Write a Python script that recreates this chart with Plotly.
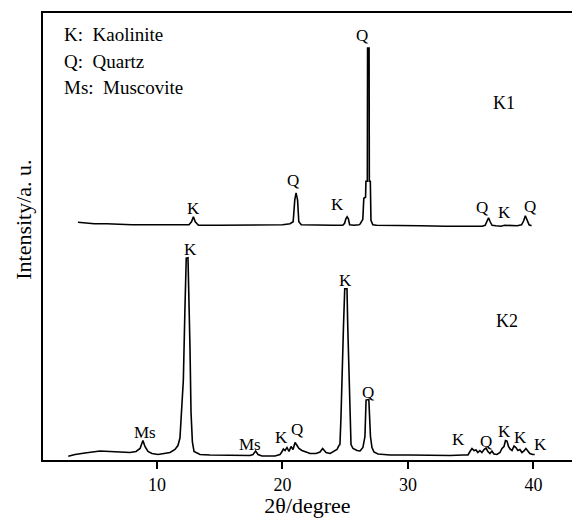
import plotly.graph_objects as go

# ---------------- data ----------------
# K1 pattern: 2theta (degree) and intensity (a.u., relative to its own zero)
k1_theta = [3.7, 4.0, 5.0, 6.0, 7.0, 8.0, 10.0, 12.0, 12.55, 12.75, 12.9, 13.05, 13.3,
            15.0, 17.0, 19.0, 20.0, 20.6, 20.85, 20.98, 21.08, 21.2, 21.3, 21.5, 22.5,
            24.0, 24.8, 24.95, 25.05, 25.15, 25.25, 25.35, 25.7, 26.1, 26.2, 26.4, 26.48,
            26.62, 26.65, 26.76, 26.78, 26.9, 26.92, 27.0, 27.05, 27.2, 27.5, 29.0, 31.0,
            33.0, 35.0, 35.9, 36.15, 36.3, 36.42, 36.55, 36.7, 37.0, 37.4, 37.7, 38.1,
            38.7, 39.05, 39.22, 39.35, 39.5, 39.65, 39.85]
k1_int = [13, 12.5, 11.5, 11.5, 11, 10.5, 10.5, 10.5, 10.5, 13.5, 18.5, 13.5, 10,
          10, 10, 10, 10.5, 11.5, 13.5, 35.5, 42.5, 35.5, 13.5, 10.5, 10,
          10, 10, 12, 16.5, 18.5, 16.5, 10.5, 10, 10.5, 11.5, 16, 37,
          38, 54, 54, 187.5, 187.5, 54, 54, 15, 10.5, 10, 9.5, 9.5,
          9, 8.5, 9, 10, 13.5, 17.5, 13.5, 10, 9.5, 9, 10, 9.5,
          9.5, 10.5, 14.5, 19.5, 14.5, 10.5, 9.5]

# K2 pattern
k2_theta = [2.93, 3.47, 4.26, 5.06, 5.46, 6.25, 7.05, 7.85, 8.33, 8.65, 8.88, 9.04, 9.28,
            9.6, 10.08, 10.64, 11.04, 11.43, 11.67, 11.83, 11.97, 12.1, 12.22, 12.33,
            12.47, 12.58, 12.63, 12.71, 12.82, 12.95, 13.43, 14.22, 15.82, 17.41, 17.65,
            17.86, 18.05, 18.37, 19.4, 19.8, 19.93, 20.07, 20.2, 20.36, 20.52, 20.68,
            20.84, 21.0, 21.16, 21.31, 21.55, 21.87, 22.2, 22.67, 22.99, 23.2, 23.47,
            23.8, 24.1, 24.34, 24.5, 24.58, 24.66, 24.74, 24.86, 24.96, 25.14, 25.2,
            25.28, 25.38, 25.46, 25.62, 25.94, 26.18, 26.41, 26.57, 26.66, 26.88, 27.01,
            27.13, 27.29, 27.61, 28.57, 30.16, 31.75, 33.35, 34.38, 34.78, 34.94, 35.1,
            35.26, 35.42, 35.57, 35.73, 35.89, 36.06, 36.22, 36.37, 36.53, 36.69, 36.85,
            37.09, 37.33, 37.49, 37.65, 37.77, 37.89, 38.01, 38.13, 38.29, 38.45, 38.6,
            38.76, 38.92, 39.08, 39.24, 39.4, 39.55, 39.71, 39.95, 40.1]
k2_int = [3.8, 5.5, 7, 8.5, 9, 8.5, 8, 7.5, 8.5, 11.5, 19.5, 13.5, 8.5,
          6.5, 5.5, 6.5, 7.5, 10.5, 14.5, 22, 47, 80, 148, 202,
          202.5, 148, 112, 48, 18, 8.5, 5.5, 5, 4.5, 4.5, 5.5,
          9, 5.5, 4, 4, 5.5, 7.8, 11, 9.5, 12.5, 8.5, 13.5,
          10.5, 17.5, 14.5, 11.5, 9.5, 8, 6.5, 6.5, 8, 11.5, 7.5,
          6.5, 8.5, 10.5, 14.5, 15.5, 42.5, 90.5, 134, 171.5, 171.5, 134,
          90.5, 29, 15.5, 11.5, 9.5, 9, 12.5, 23.5, 60, 60.5, 23.5,
          12.5, 8, 6, 5, 5, 4.5, 4.5, 5, 5, 8.5, 11.5,
          9.5, 10, 7.5, 9.5, 7.5, 10.5, 12, 8.5, 6.5, 9, 6,
          5.5, 7.5, 11.5, 13.5, 19.5, 19, 13.5, 11, 9.5, 14, 12.5,
          9.5, 10.5, 7.5, 9, 11.5, 9.5, 6.5, 5.5, 5.5]

# phase labels: text, 2theta position, label height (a.u.)
k1_labels = ["K", "Q", "K", "Q", "Q", "K", "Q"]
k1_label_theta = [12.87, 20.84, 24.42, 26.37, 35.86, 37.73, 39.72]
k1_label_y = [26.5, 54.5, 30.5, 199.5, 27.5, 22.5, 28.5]

k2_labels = ["Ms", "K", "Ms", "K", "Q", "K", "Q", "K", "Q", "K", "K", "K"]
k2_label_theta = [9.04, 12.63, 17.45, 19.96, 21.13, 25.02, 26.81, 34.0, 36.22, 37.73, 38.98, 40.57]
k2_label_y = [27.5, 210.5, 15.5, 22.5, 30.5, 179.5, 68, 20.5, 18.8, 28.8, 22.2, 15.5]

sample_names = ["K1", "K2"]
sample_label_theta = [37.65, 37.86]
sample_label_y = [357.5, 138.8]

legend_lines = ["K:\u00a0 Kaolinite", "Q:\u00a0 Quartz", "Ms:\u00a0 Muscovite"]

x_ticks = [10, 20, 30, 40]

# ---------------- layout constants ----------------
K1_OFFSET = 225.0
FONT = "'Liberation Serif', 'Times New Roman', Times, 'DejaVu Serif', serif"

fig = go.Figure()
fig.add_trace(go.Scatter(x=k1_theta, y=[v + K1_OFFSET for v in k1_int], mode="lines",
                         line=dict(color="black", width=1.6), showlegend=False,
                         hoverinfo="skip"))
fig.add_trace(go.Scatter(x=k2_theta, y=k2_int, mode="lines",
                         line=dict(color="black", width=1.6), showlegend=False,
                         hoverinfo="skip"))

annotations = []
for t, x, y in zip(k1_labels, k1_label_theta, k1_label_y):
    annotations.append(dict(x=x, y=y + K1_OFFSET, xref="x", yref="y", text=t,
                            showarrow=False, font=dict(family=FONT, size=17, color="black"),
                            xanchor="center", yanchor="middle"))
for t, x, y in zip(k2_labels, k2_label_theta, k2_label_y):
    annotations.append(dict(x=x, y=y, xref="x", yref="y", text=t,
                            showarrow=False, font=dict(family=FONT, size=17, color="black"),
                            xanchor="center", yanchor="middle"))
for t, x, y in zip(sample_names, sample_label_theta, sample_label_y):
    annotations.append(dict(x=x, y=y, xref="x", yref="y", text=t,
                            showarrow=False, font=dict(family=FONT, size=18, color="black"),
                            xanchor="center", yanchor="middle"))
legend_y_px = [35, 62, 88]
for t, py in zip(legend_lines, legend_y_px):
    annotations.append(dict(x=(62 - 43) / 529, y=(460.5 - py) / 447.5, xref="paper", yref="paper",
                            text=t, showarrow=False,
                            font=dict(family=FONT, size=19, color="black"),
                            xanchor="left", yanchor="middle"))
annotations.append(dict(x=(24 - 43) / 529, y=(460.5 - 220) / 447.5, xref="paper", yref="paper",
                        text="Intensity/a. u.", textangle=-90, showarrow=False,
                        font=dict(family=FONT, size=22, color="black"),
                        xanchor="center", yanchor="middle"))

fig.update_layout(
    width=572, height=518,
    margin=dict(l=43, r=0, t=13, b=57.5),
    paper_bgcolor="white", plot_bgcolor="white",
    annotations=annotations,
    font=dict(family=FONT, color="black"),
    xaxis=dict(range=[0.916, 43.07], tickvals=x_ticks, ticktext=[str(v) for v in x_ticks],
               ticks="outside", ticklen=7, tickwidth=1.5, tickcolor="black",
               showline=True, linecolor="black", linewidth=1.8, mirror=True,
               showgrid=False, zeroline=False,
               tickfont=dict(family=FONT, size=18, color="black"),
               title=dict(text="2θ/degree", font=dict(family=FONT, size=22, color="black"),
                          standoff=3)),
    yaxis=dict(range=[0, 447.5], showticklabels=False, ticks="",
               showline=True, linecolor="black", linewidth=1.8, mirror=False,
               showgrid=False, zeroline=False),
)

fig.write_html("out.html")
